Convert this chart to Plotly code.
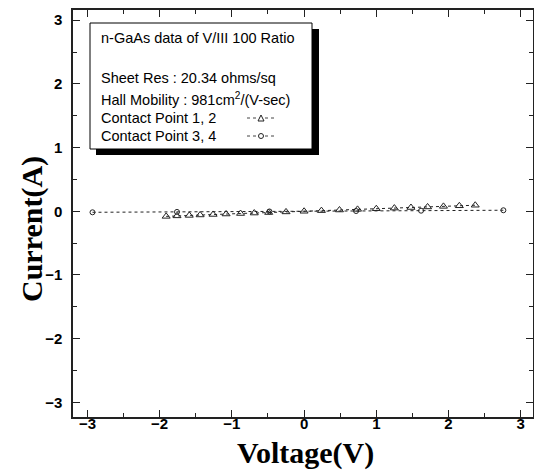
import plotly.graph_objects as go

# Contact Point 1, 2 (triangles)
v12 = [-1.91, -1.76, -1.59, -1.44, -1.26, -1.08, -0.88, -0.69, -0.49, -0.25, 0.0,
       0.24, 0.49, 0.74, 1.0, 1.25, 1.48, 1.71, 1.93, 2.15, 2.37]
i12 = [-0.080, -0.072, -0.065, -0.058, -0.050, -0.043, -0.035, -0.028, -0.020, -0.010, 0.0,
       0.010, 0.020, 0.030, 0.040, 0.050, 0.059, 0.068, 0.077, 0.086, 0.095]

# Contact Point 3, 4 (open circles)
v34 = [-2.93, -1.76, -0.48, 0.72, 1.62, 2.76]
i34 = [-0.016, -0.010, -0.003, 0.004, 0.009, 0.016]

xticks = [-3, -2, -1, 0, 1, 2, 3]
yticks = [-3, -2, -1, 0, 1, 2, 3]

legend_title = "n-GaAs data of V/III 100 Ratio"
legend_lines = ["Sheet Res : 20.34 ohms/sq",
                "Hall Mobility : 981cm<sup>2</sup>/(V-sec)",
                "Contact Point 1, 2",
                "Contact Point 3, 4"]

fig = go.Figure()
fig.add_trace(go.Scatter(x=v34, y=i34, mode="lines+markers",
                         line=dict(color="#222", width=1, dash="dot"),
                         marker=dict(symbol="circle-open", size=5, color="#222", line=dict(width=1)),
                         showlegend=False))
fig.add_trace(go.Scatter(x=v12, y=i12, mode="lines+markers",
                         line=dict(color="#222", width=1, dash="3px,3px"),
                         marker=dict(symbol="triangle-up-open", size=7, color="#222", line=dict(width=1)),
                         showlegend=False))

L, T, B, W, H = 73, 10, 417, 460, 407
def px(x): return (x - L) / W
def py(y): return (B - y) / H

shapes = []
# shadow
shapes.append(dict(type="rect", xref="paper", yref="paper", x0=px(96), x1=px(319), y0=py(155), y1=py(29),
                   fillcolor="black", line=dict(width=0), layer="above"))
shapes.append(dict(type="rect", xref="paper", yref="paper", x0=px(90), x1=px(312), y0=py(149), y1=py(23),
                   fillcolor="white", line=dict(color="black", width=1), layer="above"))
# legend samples
for yy in (118, 136):
    shapes.append(dict(type="line", xref="paper", yref="paper", x0=px(247), x1=px(276), y0=py(yy), y1=py(yy),
                       line=dict(color="#444", width=1, dash="dot"), layer="above"))
shapes.append(dict(type="path", xref="paper", yref="paper", layer="above",
                   path=f"M {px(258)},{py(121)} L {px(264)},{py(121)} L {px(261)},{py(115)} Z",
                   fillcolor="white", line=dict(color="#222", width=1)))
shapes.append(dict(type="circle", xref="paper", yref="paper", layer="above",
                   x0=px(258.5), x1=px(263.5), y0=py(138.5), y1=py(133.5),
                   fillcolor="white", line=dict(color="#222", width=1)))

font_leg = dict(family="Liberation Sans, Arial", size=14.5, color="black")
title_font = dict(family="Liberation Serif, Times New Roman", size=30, color="black", weight="bold")
annotations = []
annotations.append(dict(xref="paper", yref="paper", x=px(99), y=py(38), text=legend_title,
                        showarrow=False, xanchor="left", yanchor="middle", font=font_leg))
for yy, t in zip((78, 99, 118, 136), legend_lines):
    annotations.append(dict(xref="paper", yref="paper", x=px(99), y=py(yy), text=t,
                            showarrow=False, xanchor="left", yanchor="middle", font=font_leg))
# axis titles
annotations.append(dict(xref="paper", yref="paper", x=px(305), y=py(453), text="Voltage(V)",
                        showarrow=False, xanchor="center", yanchor="middle", font=title_font))
annotations.append(dict(xref="paper", yref="paper", x=px(32), y=py(229), text="Current(A)", textangle=-90,
                        showarrow=False, xanchor="center", yanchor="middle", font=title_font))

axis_common = dict(showline=True, linecolor="#222", linewidth=1.5, mirror="allticks",
                   ticks="inside", ticklen=7, tickwidth=1.2, tickcolor="#222",
                   showgrid=False, zeroline=False,
                   tickfont=dict(family="Liberation Sans, Arial", size=15, color="black", weight="bold"),
                   minor=dict(ticks="inside", ticklen=4, dtick=0.5, tickwidth=1, tickcolor="#222", showgrid=False))

fig.update_layout(
    width=534, height=473,
    margin=dict(l=L, r=534 - L - W, t=T, b=473 - B),
    paper_bgcolor="white", plot_bgcolor="white",
    shapes=shapes, annotations=annotations,
    xaxis=dict(range=[-3.2, 3.17], tickvals=xticks, ticklabelstandoff=-8, automargin=False, **axis_common),
    yaxis=dict(range=[-3.23, 3.16], tickvals=yticks, ticklabelstandoff=6, automargin=False, **axis_common),
)

fig.write_html("out.html", config={"displayModeBar": False},
               post_script="document.body.style.margin='0';document.body.style.overflow='hidden';")
